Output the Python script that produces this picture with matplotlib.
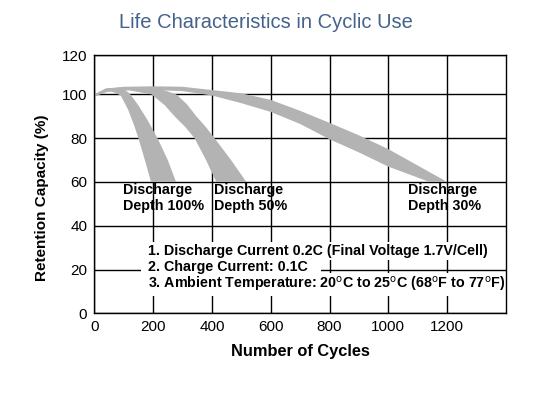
import matplotlib
matplotlib.use("Agg")
import matplotlib.pyplot as plt
from matplotlib.patches import Rectangle

plt.rcParams['font.family'] = ['Liberation Sans', 'DejaVu Sans']

# --- band outlines (cycles, retention %) ---
d100_outer_x = [0, 40, 90, 120, 150, 180, 215, 250, 278]
d100_outer_y = [100, 102.8, 103.2, 100.5, 95, 88.5, 80, 70, 60]
d100_inner_x = [0, 30, 60, 90, 115, 135, 150, 172, 193]
d100_inner_y = [99.5, 101.5, 101.3, 99.5, 93, 86, 80, 70, 60]

d50_outer_x = [0, 50, 120, 200, 240, 279, 315, 347, 380, 409, 465, 517]
d50_outer_y = [100, 102.5, 103.2, 102.8, 101.8, 100, 95.5, 90, 85, 80, 70, 60]
d50_inner_x = [0, 50, 120, 195, 240, 273, 310, 341, 380, 415]
d50_inner_y = [99.5, 101.5, 101.8, 100, 95, 90, 85, 80, 70, 60]

d30_outer_x = [0, 40, 100, 200, 300, 400, 500, 600, 700, 800, 900, 1000, 1100, 1200]
d30_outer_y = [100, 102.5, 103.5, 103.7, 103.5, 102, 100.5, 97.5, 92.5, 87, 81.3, 75, 67.5, 60]
d30_inner_x = [0, 40, 100, 200, 300, 400, 500, 600, 700, 800, 900, 1000, 1100, 1140]
d30_inner_y = [99, 101, 102, 102, 101.5, 99.5, 96, 92, 86.5, 79.5, 73.5, 67, 62, 60]

bands = [
    (d100_outer_x, d100_outer_y, d100_inner_x, d100_inner_y),
    (d50_outer_x, d50_outer_y, d50_inner_x, d50_inner_y),
    (d30_outer_x, d30_outer_y, d30_inner_x, d30_inner_y),
]

band_labels = ["Discharge\nDepth 100%", "Discharge\nDepth 50%", "Discharge\nDepth 30%"]
band_label_x = [98, 406, 1067]

notes = [
    "1. Discharge Current 0.2C (Final Voltage 1.7V/Cell)",
    "2. Charge Current: 0.1C",
    r"3. Ambient Temperature: 20$^\mathrm{o}$C to 25$^\mathrm{o}$C (68$^\mathrm{o}$F to 77$^\mathrm{o}$F)",
]
note_y = [28.4, 21.1, 13.3]

x_ticks = [0, 200, 400, 600, 800, 1000, 1200]
y_ticks = [0, 20, 40, 60, 80, 100, 118]
y_tick_labels = ["0", "20", "40", "60", "80", "100", "120"]

fig = plt.figure(figsize=(5.41, 3.94), dpi=100)
ax = fig.add_axes([0.1743, 0.2048, 0.7610, 0.6556])

for ox, oy, ix, iy in bands:
    px = list(ox) + list(ix[::-1])
    py = list(oy) + list(iy[::-1])
    ax.fill(px, py, color='#b3b3b3', lw=0, zorder=2)

ax.set_xlim(0, 1400)
ax.set_ylim(0, 118)
ax.set_xticks(x_ticks)
ax.set_yticks(y_ticks)
ax.set_yticklabels(y_tick_labels)
ax.tick_params(length=0, labelsize=11, pad=5)
ax.grid(True, color='black', lw=1.0)
ax.set_axisbelow(True)
for s in ax.spines.values():
    s.set_color('black')
    s.set_linewidth(1.0)

for lab, lx in zip(band_labels, band_label_x):
    ax.text(lx, 59.5, lab, ha='left', va='top', fontsize=10.3,
            fontweight='bold', linespacing=1.15, zorder=3)

note_texts = []
for t, ty in zip(notes, note_y):
    note_texts.append(ax.text(182, ty, t, ha='left', va='center', fontsize=10.3,
                              fontweight='bold', zorder=3))

# white patches behind each note line so the grid breaks around the text
fig.canvas.draw()
inv = ax.transData.inverted()
for t in note_texts:
    bb = t.get_window_extent()
    (x0, y0), (x1, y1) = inv.transform([(bb.x0 - 7, bb.y0 - 2), (bb.x1 + 13, bb.y1 + 2)])
    ax.add_patch(Rectangle((x0, y0), x1 - x0, y1 - y0, facecolor='white',
                           edgecolor='none', zorder=2.5))

ax.set_xlabel("Number of Cycles", fontsize=11.8, fontweight='bold', labelpad=7)
fig.text(0.077, 0.497, "Retention Capacity (%)", rotation=90, ha='center',
         va='center', fontsize=11, fontweight='bold')

fig.text(0.492, 0.942, "Life Characteristics in Cyclic Use", ha='center',
         va='center', fontsize=14.5, color='#44628c')

fig.savefig("out.png", dpi=100)
